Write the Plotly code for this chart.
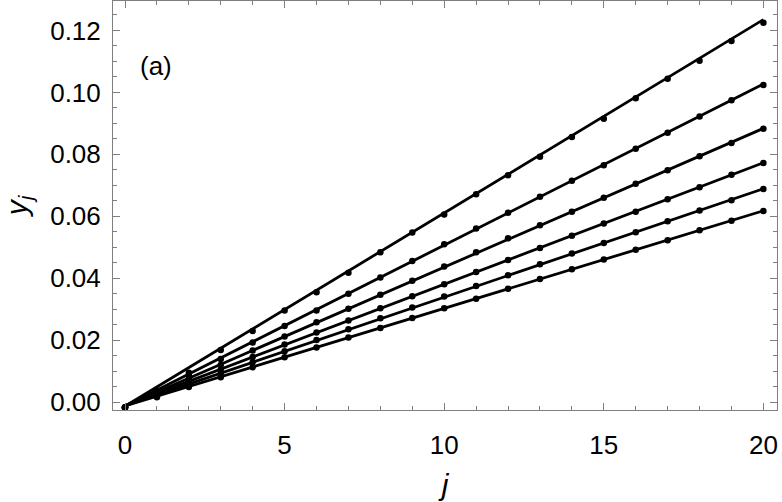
"""Panel (a): y_j against j for six parameter sets, dots with straight-line fits."""
import plotly.graph_objects as go

FONT = "Arial, Liberation Sans, sans-serif"
FRAME = "#7f7f7f"

j_values = list(range(21))

# dot values, one list per curve (top to bottom)
y_series_1 = [-0.0017, 0.0038, 0.0095, 0.0169, 0.0230, 0.0296, 0.0355, 0.0418, 0.0484, 0.0548,
              0.0606, 0.0671, 0.0733, 0.0792, 0.0856, 0.0915, 0.0981, 0.1044, 0.1102, 0.1166, 0.1225]
y_series_2 = [-0.0017, 0.0030, 0.0086, 0.0140, 0.0193, 0.0246, 0.0296, 0.0350, 0.0403, 0.0456,
              0.0510, 0.0561, 0.0612, 0.0663, 0.0715, 0.0765, 0.0818, 0.0870, 0.0922, 0.0975, 0.1024]
y_series_3 = [-0.0017, 0.0026, 0.0074, 0.0120, 0.0167, 0.0212, 0.0258, 0.0302, 0.0347, 0.0392,
              0.0438, 0.0484, 0.0529, 0.0571, 0.0615, 0.0660, 0.0705, 0.0749, 0.0794, 0.0837, 0.0883]
y_series_4 = [-0.0017, 0.0022, 0.0064, 0.0105, 0.0146, 0.0186, 0.0225, 0.0264, 0.0303, 0.0342,
              0.0381, 0.0420, 0.0459, 0.0498, 0.0537, 0.0577, 0.0615, 0.0655, 0.0694, 0.0734, 0.0772]
y_series_5 = [-0.0017, 0.0019, 0.0057, 0.0093, 0.0129, 0.0165, 0.0201, 0.0236, 0.0271, 0.0306,
              0.0341, 0.0375, 0.0410, 0.0445, 0.0480, 0.0514, 0.0549, 0.0584, 0.0619, 0.0652, 0.0688]
y_series_6 = [-0.0017, 0.0016, 0.0049, 0.0081, 0.0113, 0.0145, 0.0177, 0.0209, 0.0240, 0.0272,
              0.0303, 0.0334, 0.0366, 0.0398, 0.0429, 0.0461, 0.0492, 0.0523, 0.0555, 0.0586, 0.0617]

# linear fits y = slope * j + intercept drawn over the dots
fit_slopes = [0.00624, 0.00520, 0.00448, 0.00392, 0.00350, 0.00315]
fit_intercepts = [-0.0013, -0.0013, -0.0012, -0.0011, -0.0011, -0.0012]
fit_j = [0, 20]

y_ticks = [0.00, 0.02, 0.04, 0.06, 0.08, 0.10, 0.12]
x_ticks = [0, 5, 10, 15, 20]

fig = go.Figure()
for slope, icpt in zip(fit_slopes, fit_intercepts):
    fig.add_trace(go.Scatter(
        x=fit_j, y=[slope * j + icpt for j in fit_j], mode="lines",
        line=dict(color="black", width=2.8), hoverinfo="skip", showlegend=False))
for ys in (y_series_1, y_series_2, y_series_3, y_series_4, y_series_5, y_series_6):
    fig.add_trace(go.Scatter(
        x=j_values, y=ys, mode="markers",
        marker=dict(color="black", size=6.5), showlegend=False))

axis_common = dict(
    showgrid=False, zeroline=False, showline=True, linecolor=FRAME, linewidth=1,
    mirror="ticks", ticks="inside", ticklen=7, tickcolor=FRAME, tickwidth=1,
    tickfont=dict(family=FONT, size=26, color="black"), automargin=False,
)
fig.update_xaxes(
    range=[-0.376, 20.426], tickvals=x_ticks, ticklabelstandoff=12,
    minor=dict(dtick=1, ticks="inside", ticklen=4, tickcolor=FRAME),
    title=dict(text="<i>j</i>", font=dict(family=FONT, size=30, color="black"), standoff=14),
    **axis_common)
fig.update_yaxes(
    range=[-0.0025, 0.1295], tickvals=y_ticks, tickformat=".2f", ticklabelstandoff=6,
    minor=dict(dtick=0.005, ticks="inside", ticklen=4, tickcolor=FRAME),
    title=dict(text="<i>y</i><sub><i>j</i></sub>", font=dict(family=FONT, size=30, color="black"),
               standoff=14),
    **axis_common)

fig.add_annotation(x=0.96, y=0.1085, text="(a)", showarrow=False,
                   font=dict(family=FONT, size=26, color="black"))

fig.update_layout(
    width=782, height=502, margin=dict(l=113, r=5, t=1, b=92),
    plot_bgcolor="white", paper_bgcolor="white",
)

fig.write_html("out.html", config={"displayModeBar": False})

# the page body keeps the browser's default 8px margin; drop it so the figure sits at 0,0
with open("out.html", encoding="utf-8") as fh:
    page = fh.read()
page = page.replace("<head>", "<head><style>body{margin:0;overflow:hidden}</style>", 1)
with open("out.html", "w", encoding="utf-8") as fh:
    fh.write(page)
